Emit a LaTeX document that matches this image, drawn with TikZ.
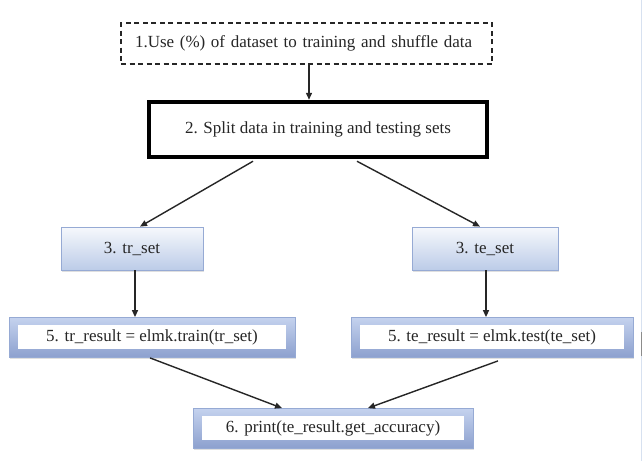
\documentclass[tikz,border=0pt]{standalone}
\usepackage{fontspec}
\setmainfont{Liberation Serif}
\usetikzlibrary{arrows.meta,shadows}

\definecolor{frameblue}{RGB}{150,170,212}
\definecolor{frametop}{RGB}{196,210,238}
\definecolor{framebot}{RGB}{140,160,206}
\definecolor{settop}{RGB}{246,248,252}
\definecolor{setbot}{RGB}{188,204,232}
\definecolor{edgeline}{RGB}{215,225,240}

\tikzset{
  txt/.style={font=\fontsize{17}{19}\selectfont, text=black!85},
  dashbox/.style={txt, draw=black!85, line width=1.8pt, dash pattern=on 5pt off 3.5pt,
    text width=343pt, align=left, inner xsep=14pt, inner ysep=0pt,
    minimum height=41pt},
  thickbox/.style={txt, draw=black, line width=4.5pt,
    minimum width=338pt, minimum height=55pt, inner sep=0pt},
  setbox/.style={txt, draw=frameblue, line width=0.8pt,
    top color=settop, bottom color=setbot,
    drop shadow={opacity=0.25, shadow xshift=1pt, shadow yshift=-1.5pt},
    minimum height=43pt, inner sep=0pt},
  resbox/.style={txt, draw=frameblue, line width=0.8pt,
    top color=frametop, bottom color=framebot,
    drop shadow={opacity=0.25, shadow xshift=1pt, shadow yshift=-1.5pt},
    minimum height=40pt, inner sep=0pt,
    path picture={\fill[white]
      ([shift={(9pt,-7pt)}]path picture bounding box.north west) rectangle
      ([shift={(-9pt,9pt)}]path picture bounding box.south east);}},
  link/.style={draw=black!85, line width=1.4pt, -{Triangle[length=7pt,width=6pt]}}
}

\begin{document}
\begin{tikzpicture}[x=1pt,y=-1pt]
\useasboundingbox[fill=white] (0,0) rectangle (642,461);

% faint page edge on the right
\draw[edgeline, line width=1pt] (641,0) -- (641,461);
\draw[black!45, line width=1pt] (641,332) -- (641,356);

\node[dashbox]  (n1) at (306.5,43.5) {1.Use (\%) of dataset to training and shuffle data};
\node[thickbox] (n2) at (318,129.5)  {2. Split data in training and testing sets};
\node[setbox, minimum width=142pt] (tra) at (132,248.5) {3. tr\_set};
\node[setbox, minimum width=146pt] (tea) at (485,248.5) {3. te\_set};
\node[resbox, minimum width=286pt] (trr) at (152,337.5) {5. tr\_result = elmk.train(tr\_set)};
\node[resbox, minimum width=282pt] (ter) at (492,337.5) {5. te\_result = elmk.test(te\_set)};
\node[resbox, minimum width=280pt] (out) at (333,428.5) {6. print(te\_result.get\_accuracy)};

\draw[link] ([xshift=2.5pt]n1.south) -- ([xshift=-9pt]n2.north);
\draw[link] ([xshift=-65pt,yshift=-2pt]n2.south) -- ([xshift=8pt]tra.north);
\draw[link] ([xshift=39pt,yshift=-2pt]n2.south) -- ([xshift=-5pt]tea.north);
\draw[link] ([xshift=3pt]tra.south) -- ([xshift=-17pt]trr.north);
\draw[link] ([xshift=1pt]tea.south) -- ([xshift=-6pt]ter.north);
\draw[link] ([xshift=-2pt]trr.south) -- ([xshift=-51pt]out.north);
\draw[link] ([xshift=6pt,yshift=-3pt]ter.south) -- ([xshift=35pt]out.north);
\end{tikzpicture}
\end{document}
